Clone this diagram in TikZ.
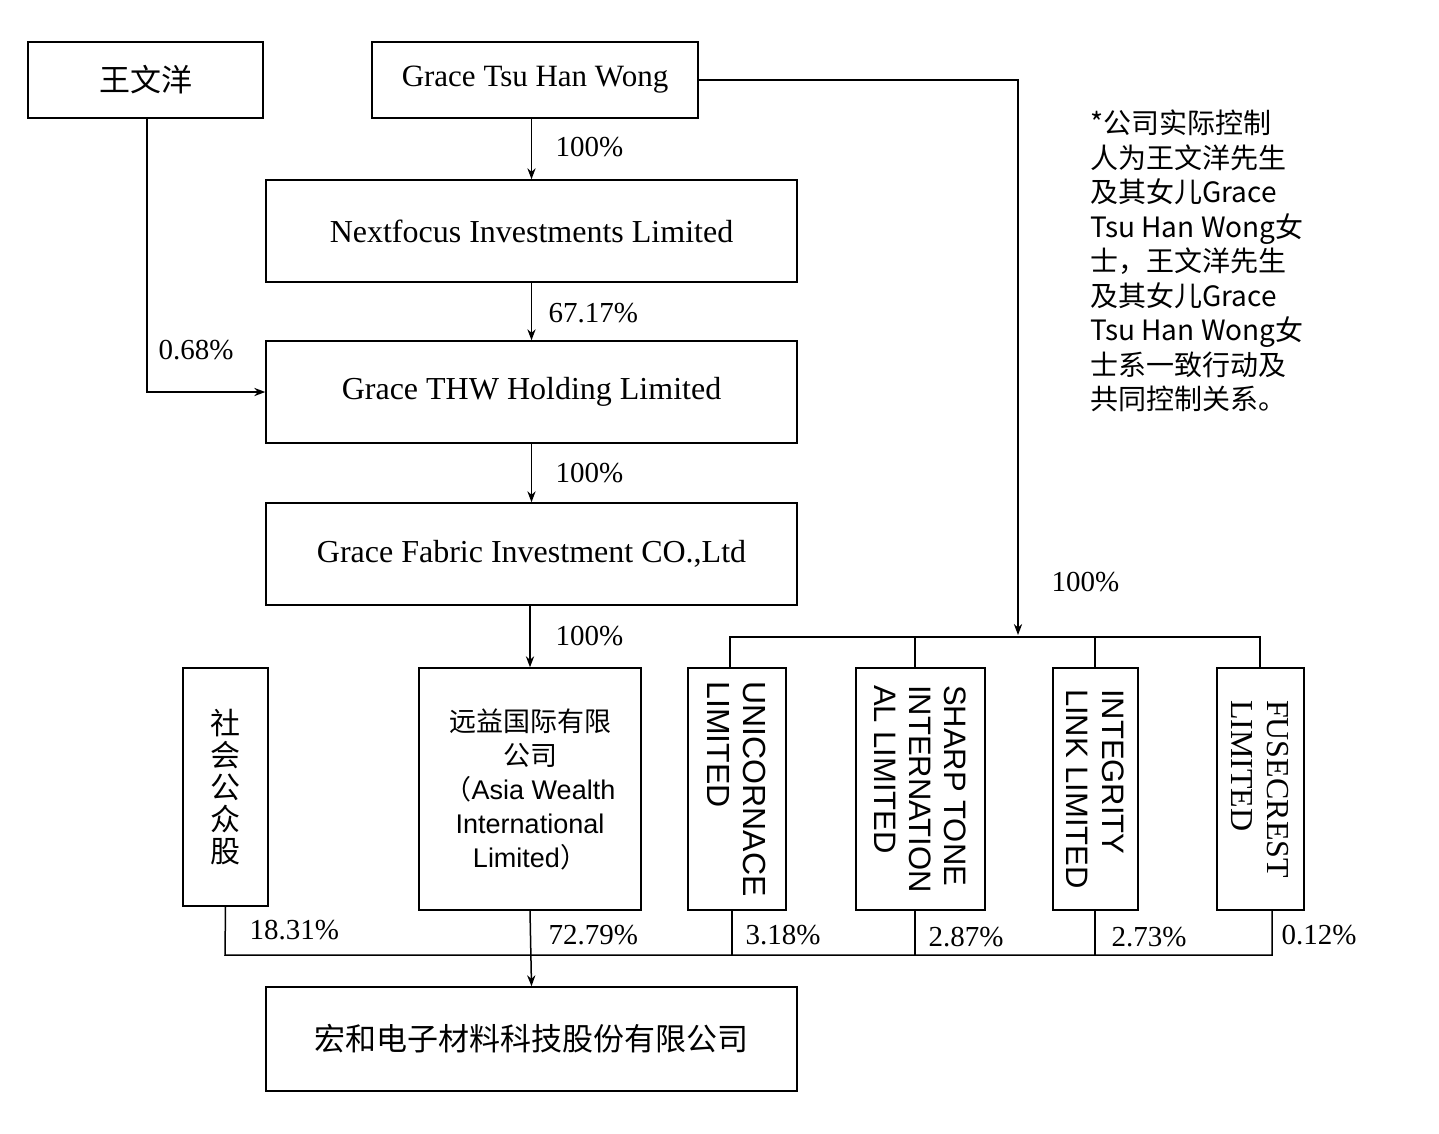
\documentclass[tikz,border=0pt]{standalone}
\usepackage{fontspec}
\setmainfont{Liberation Serif}
\newfontfamily\cjk{Noto Sans CJK SC}
\newfontfamily\arial{Liberation Sans}
\usetikzlibrary{arrows.meta, positioning}
\tikzset{%
	box/.style={draw, line width=1.5pt, rectangle, inner sep=0pt},
	lnk/.style={line width=1.5pt},
	own/.style={->, line width=1.5pt, >={Stealth[length=11pt]}},
	pct/.style={font=\fontsize{29}{32}\selectfont, anchor=west}
}
\begin{document}
\begin{tikzpicture}[x=1pt, y=-1pt]
	\useasboundingbox (0,0) rectangle (1439,1134);
	% top owners
	\node[box, minimum width=235pt, minimum height=76pt, font=\cjk\fontsize{31}{34}\selectfont] (wwy) at (145.5,80) {王文洋};
	\node[box, minimum width=326pt, minimum height=76pt, font=\fontsize{31}{34}\selectfont] (gtw) at (535,80) {Grace Tsu Han Wong};
	% holding chain
	\node[box, minimum width=531pt, minimum height=102pt, font=\fontsize{32}{34}\selectfont] (nfi) at (531.5,231) {Nextfocus Investments\ Limited};
	\node[box, minimum width=531pt, minimum height=102pt, font=\fontsize{32}{34}\selectfont] (thw) at (531.5,392) {Grace THW Holding Limited};
	\node[box, minimum width=531pt, minimum height=102pt, font=\fontsize{32}{34}\selectfont] (gfi) at (531.5,554) {Grace Fabric Investment\ CO.,Ltd};
	% shareholders
	\node[box, minimum width=85pt, minimum height=238pt, font=\cjk\fontsize{30}{32}\selectfont, align=center] (pub) at (225.5,787) {社\\会\\公\\众\\股};
	\node[box, minimum width=222pt, minimum height=242pt, align=center, font=\fontsize{27}{34}\selectfont] (ywi) at (530,789)
		{{\cjk 远益国际有限}\\{\cjk 公司}\\{\cjk （}{\arial Asia Wealth}\\{\arial International}\\{\arial Limited}{\cjk ）}};
	\node[box, minimum width=98pt, minimum height=242pt] (uni) at (737,789) {};
	\node[rotate=-90, align=left, font=\arial\fontsize{32}{36}\selectfont] at (uni) {UNICORNACE\\LIMITED};
	\node[box, minimum width=129pt, minimum height=242pt] (sha) at (920.5,789) {};
	\node[rotate=-90, align=left, font=\arial\fontsize{31}{35}\selectfont] at (sha) {SHARP TONE\\INTERNATION\\AL LIMITED};
	\node[box, minimum width=85pt, minimum height=242pt] (itg) at (1095.5,789) {};
	\node[rotate=-90, align=left, font=\arial\fontsize{31}{36}\selectfont] at (itg) {INTEGRITY\\LINK LIMITED};
	\node[box, minimum width=87pt, minimum height=242pt] (fus) at (1260.5,789) {};
	\node[rotate=-90, align=left, font=\fontsize{32}{36}\selectfont] at (fus) {FUSECREST\\LIMITED};
	% company
	\node[box, minimum width=531pt, minimum height=104pt, font=\cjk\fontsize{31}{34}\selectfont] (hhe) at (531.5,1039) {宏和电子材料科技股份有限公司};
	% note
	\node[anchor=north west, align=left, font=\cjk\fontsize{28}{34.5}\selectfont, inner sep=0pt] (note) at (1090,110)
		{*公司实际控制\\人为王文洋先生\\及其女儿Grace\\Tsu Han Wong女\\士，王文洋先生\\及其女儿Grace\\Tsu Han Wong女\\士系一致行动及\\共同控制关系。};
	% bus points
	\coordinate (gtr) at (1018,635);
	\coordinate (busl) at (730,637);
	\coordinate (busr) at (1260,637);
	\coordinate (botl) at (225,955);
	\coordinate (botr) at (1272,955);
	% connectors
	\draw[own] (gtw.south -| nfi.north) -- (nfi.north);
	\draw[own] (nfi) -- (thw);
	\draw[own] (thw) -- (gfi);
	\draw[own] (gfi.south -| ywi.north) -- (ywi.north);
	\draw[own] (wwy.south -| 147,0) |- (thw.west);
	\draw[own] (gtw.east) -| (gtr);
	\draw[lnk] (busl |- uni.north) |- (busr) -- (busr |- fus.north);
	\draw[lnk] (915,637) -- (915,668);
	\draw[lnk] (1095,637) -- (1095,668);
	\draw[lnk] (pub.south) -- (botl) -- (botr) -- (botr |- fus.south);
	\draw[lnk] (732,910) -- (732,955);
	\draw[lnk] (915,910) -- (915,955);
	\draw[lnk] (1095,910) -- (1095,955);
	\draw[own] (ywi.south) -- (hhe.north);
	% percentages
	\node[pct] at (552,147) {100\%};
	\node[pct] at (545,313) {67.17\%};
	\node[pct] at (155,350) {0.68\%};
	\node[pct] at (552,473) {100\%};
	\node[pct] at (552,636) {100\%};
	\node[pct] at (1048,582) {100\%};
	\node[pct] at (246,930) {18.31\%};
	\node[pct] at (545,935) {72.79\%};
	\node[pct] at (742,935) {3.18\%};
	\node[pct] at (925,937) {2.87\%};
	\node[pct] at (1108,937) {2.73\%};
	\node[pct] at (1278,935) {0.12\%};
\end{tikzpicture}
\end{document}
